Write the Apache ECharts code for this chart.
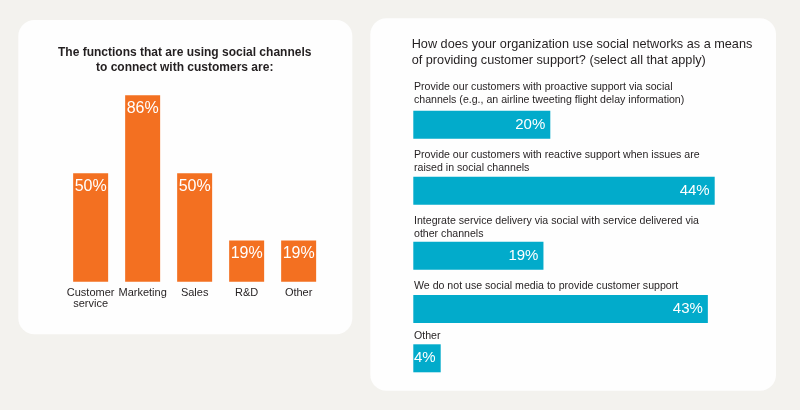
<!DOCTYPE html>
<html>
<head>
<meta charset="utf-8">
<script src="https://cdn.jsdelivr.net/npm/echarts@6/dist/echarts.min.js"></script>
<style>
html,body{margin:0;padding:0;background:#f3f2ee;}
#chart{width:800px;height:410px;}
</style>
</head>
<body>
<div id="chart"></div>
<script>
// ---- Data ----
const leftTitle = "The functions that are using social channels\nto connect with customers are:";
const leftCategories = ["Customer\nservice", "Marketing", "Sales", "R&D", "Other"];
const leftValues = [50, 86, 50, 19, 19];

const rightTitle = "How does your organization use social networks as a means\nof providing customer support? (select all that apply)";
const rightCategories = [
  "Provide our customers with proactive support via social\nchannels (e.g., an airline tweeting flight delay information)",
  "Provide our customers with reactive support when issues are\nraised in social channels",
  "Integrate service delivery via social with service delivered via\nother channels",
  "We do not use social media to provide customer support",
  "Other"
];
const rightValues = [20, 44, 19, 43, 4];

// ---- Layout ----
const FONT = "Liberation Sans";
const ORANGE = "#f37021";
const BLUE = "#02abcb";
const TEXT = "#231f20";
const rightBarTops = [110.7, 176.7, 241.7, 295, 344.3];
const rightLabelTops = [81, 149, 214.8, 279.3, 330];

const chart = echarts.init(document.getElementById('chart'), null, {renderer: 'canvas'});

const grids = [{left: 64.65, top: 65, width: 260, height: 216.7}];
const xAxes = [{
  type: 'category', gridIndex: 0, data: leftCategories,
  axisLine: {show: false}, axisTick: {show: false},
  axisLabel: {fontFamily: FONT, fontSize: 11, color: TEXT, margin: 6, lineHeight: 11, interval: 0}
}];
const yAxes = [{type: 'value', gridIndex: 0, min: 0, max: 100, show: false}];
const series = [{
  type: 'bar', xAxisIndex: 0, yAxisIndex: 0, data: leftValues, barWidth: 35,
  itemStyle: {color: ORANGE},
  label: {show: true, position: 'insideTop', distance: 5, formatter: '{c}%',
    color: '#fff', fontFamily: FONT, fontSize: 16}
}];
const titles = [
  {text: leftTitle, left: 184.7, textAlign: 'center', top: 45, padding: 0,
   textStyle: {fontFamily: FONT, fontSize: 12, fontWeight: 'bold', color: TEXT, lineHeight: 15}},
  {text: rightTitle, left: 411.7, top: 36.2, padding: 0,
   textStyle: {fontFamily: FONT, fontSize: 12.7, fontWeight: 'normal', color: TEXT, lineHeight: 16}}
];

rightValues.forEach((v, i) => {
  const gi = i + 1;
  grids.push({left: 413.3, top: rightBarTops[i], width: 342.5, height: 28});
  xAxes.push({type: 'value', gridIndex: gi, min: 0, max: 50, show: false});
  yAxes.push({type: 'category', gridIndex: gi, data: [rightCategories[i]], show: false});
  series.push({
    type: 'bar', xAxisIndex: gi, yAxisIndex: gi, data: [v], barWidth: 28,
    itemStyle: {color: BLUE},
    label: {show: true, position: 'insideRight', distance: 5, formatter: '{c}%',
      color: '#fff', fontFamily: FONT, fontSize: 15}
  });
  titles.push({text: rightCategories[i], left: 414, top: rightLabelTops[i], padding: 0,
    textStyle: {fontFamily: FONT, fontSize: 10.6, fontWeight: 'normal', color: TEXT, lineHeight: 12.7}});
});

chart.setOption({
  backgroundColor: '#f3f2ee',
  animation: false,
  graphic: [
    {type: 'rect', z: -10, shape: {x: 18.3, y: 20, width: 334, height: 314.3, r: 16}, style: {fill: '#fefefe'}},
    {type: 'rect', z: -10, shape: {x: 370.3, y: 18.3, width: 405.7, height: 372.4, r: 16}, style: {fill: '#fefefe'}}
  ],
  title: titles,
  grid: grids,
  xAxis: xAxes,
  yAxis: yAxes,
  series: series
});
</script>
</body>
</html>
